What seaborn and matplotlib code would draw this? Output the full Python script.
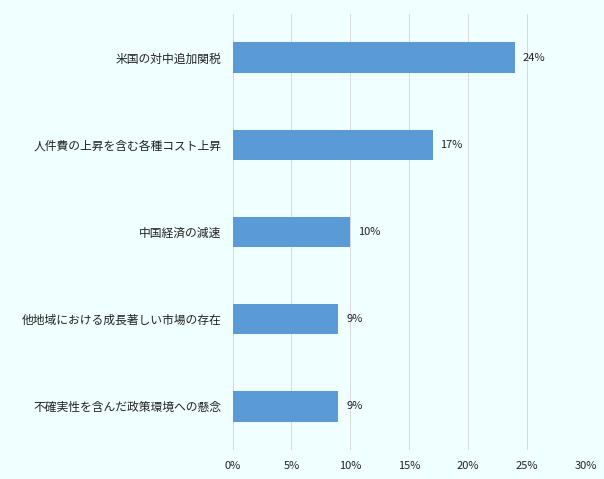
import matplotlib
matplotlib.use("Agg")
import matplotlib.pyplot as plt
import seaborn as sns
import pandas as pd

# Data
categories = [
    "米国の対中追加関税",
    "人件費の上昇を含む各種コスト上昇",
    "中国経済の減速",
    "他地域における成長著しい市場の存在",
    "不確実性を含んだ政策環境への懸念",
]
values = [24, 17, 10, 9, 9]
x_ticks = [0, 5, 10, 15, 20, 25, 30]

bg = "#F0FFFF"
bar_color = "#5B9BD5"

sns.set_theme(style="white")
plt.rcParams["font.family"] = ["Noto Sans CJK JP", "DejaVu Sans"]

df = pd.DataFrame({"cat": categories, "val": values})

fig = plt.figure(figsize=(6.04, 4.79), dpi=100, facecolor=bg)
ax = fig.add_axes([232.5 / 604, 1 - 450 / 479, (585.7 - 232.5) / 604, 436 / 479])
ax.set_facecolor(bg)

sns.barplot(data=df, x="val", y="cat", color=bar_color, width=0.35,
            saturation=1, linewidth=0, ax=ax, zorder=3)

ax.set_xlim(0, 30)
ax.set_ylim(4.5, -0.5)
ax.set_xticks(x_ticks)
ax.set_xticklabels([f"{t}%" for t in x_ticks], fontsize=8, color="#222222")
ax.tick_params(axis="y", labelsize=8.5, colors="#222222", length=0, pad=8)
ax.tick_params(axis="x", length=0, pad=8)
ax.grid(axis="x", color="#D9D9D9", linewidth=0.75, zorder=0)
ax.grid(axis="y", visible=False)
for s in ax.spines.values():
    s.set_visible(False)
ax.set_xlabel("")
ax.set_ylabel("")

for i, v in enumerate(values):
    ax.text(v + 0.65, i, f"{v}%", va="center", ha="left", fontsize=8, color="#222222")

fig.savefig("out.png", dpi=100, facecolor=bg)
